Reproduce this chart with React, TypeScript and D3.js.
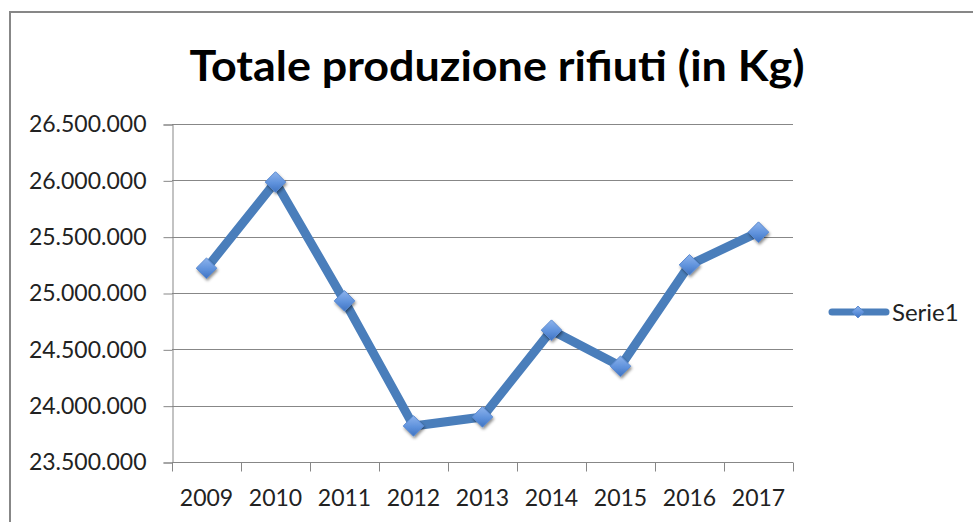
import React, { useEffect, useRef } from "react";
import * as d3 from "d3";

// chart data
const years = ["2009", "2010", "2011", "2012", "2013", "2014", "2015", "2016", "2017"];
const serie1 = [25220000, 25985000, 24930000, 23820000, 23900000, 24670000, 24350000, 25250000, 25540000];
const yTicks = [23500000, 24000000, 24500000, 25000000, 25500000, 26000000, 26500000];
const seriesName = "Serie1";
const title = "Totale produzione rifiuti (in Kg)";

const W = 973,
  H = 522;

const itLocale = d3.formatLocale({ decimal: ",", thousands: ".", grouping: [3], currency: ["", "€"] });
const fmt = itLocale.format(",d");

export default function App() {
  const ref = useRef<SVGSVGElement>(null);

  useEffect(() => {
    const svg = d3.select(ref.current);
    svg.selectAll("*").remove();

    const margin = { top: 124, right: 180, bottom: 60, left: 172 };

    const x = d3.scaleBand().domain(years).range([margin.left, W - margin.right]);
    const y = d3
      .scaleLinear()
      .domain([d3.min(yTicks) as number, d3.max(yTicks) as number])
      .range([H - margin.bottom, margin.top]);

    const font = "Lato, 'Liberation Sans', sans-serif";
    const grey = "#878787";
    const blue = "#4a7ebb";

    // defs: marker gradient + shadow
    const defs = svg.append("defs");
    const grad = defs
      .append("linearGradient")
      .attr("id", "mk")
      .attr("x1", 0)
      .attr("y1", 0)
      .attr("x2", 0)
      .attr("y2", 1);
    grad.append("stop").attr("offset", "0%").attr("stop-color", "#8db3ec");
    grad.append("stop").attr("offset", "55%").attr("stop-color", "#5f92dc");
    grad.append("stop").attr("offset", "100%").attr("stop-color", "#3f73c2");
    defs
      .append("filter")
      .attr("id", "sh")
      .attr("x", "-50%")
      .attr("y", "-50%")
      .attr("width", "200%")
      .attr("height", "200%")
      .append("feDropShadow")
      .attr("dx", 1)
      .attr("dy", 2)
      .attr("stdDeviation", 1.5)
      .attr("flood-color", "#000")
      .attr("flood-opacity", 0.45);

    // chart border
    svg
      .append("rect")
      .attr("x", 10)
      .attr("y", 12)
      .attr("width", W + 20)
      .attr("height", H + 20)
      .attr("fill", "#fff")
      .attr("stroke", grey)
      .attr("stroke-width", 2);

    // title
    svg
      .append("text")
      .attr("x", 497)
      .attr("y", 81)
      .attr("text-anchor", "middle")
      .attr("font-family", font)
      .attr("font-weight", "bold")
      .attr("font-size", 42)
      .attr("textLength", 615)
      .attr("lengthAdjust", "spacingAndGlyphs")
      .attr("fill", "#000")
      .text(title);

    const [x0, x1] = x.range();

    // horizontal gridlines
    svg
      .append("g")
      .selectAll("line")
      .data(yTicks)
      .enter()
      .append("line")
      .attr("x1", x0)
      .attr("x2", x1)
      .attr("y1", (d) => Math.round(y(d)) + 0.5)
      .attr("y2", (d) => Math.round(y(d)) + 0.5)
      .attr("stroke", grey)
      .attr("stroke-width", 1);

    // y axis
    const yAxis = svg
      .append("g")
      .attr("transform", `translate(${x0 + 0.5},0.5)`)
      .call(d3.axisLeft(y).tickValues(yTicks).tickSize(9).tickPadding(17).tickFormat((d) => fmt(d as number)));
    yAxis.select(".domain").attr("stroke", grey);
    yAxis.selectAll(".tick line").attr("stroke", grey);
    yAxis
      .selectAll(".tick text")
      .attr("font-family", font)
      .attr("font-size", 23)
      .attr("fill", "#222");

    // x axis: line + ticks at category boundaries
    const yb = Math.round(y.range()[0]) + 0.5;
    const xg = svg.append("g");
    xg.append("line").attr("x1", x0).attr("x2", x1).attr("y1", yb).attr("y2", yb).attr("stroke", grey);
    xg.selectAll("line.tk")
      .data([...years.map((c) => x(c) as number), x1])
      .enter()
      .append("line")
      .attr("class", "tk")
      .attr("x1", (d) => Math.round(d) + 0.5)
      .attr("x2", (d) => Math.round(d) + 0.5)
      .attr("y1", yb)
      .attr("y2", yb + 9)
      .attr("stroke", grey);
    xg.selectAll("text")
      .data(years)
      .enter()
      .append("text")
      .attr("x", (d) => (x(d) as number) + x.bandwidth() / 2)
      .attr("y", yb + 43)
      .attr("text-anchor", "middle")
      .attr("font-family", font)
      .attr("font-size", 23)
      .attr("fill", "#222")
      .text((d) => d);

    // series line
    const pts = years.map((c, i) => [(x(c) as number) + x.bandwidth() / 2, y(serie1[i])] as [number, number]);
    svg
      .append("path")
      .attr("d", d3.line()(pts))
      .attr("fill", "none")
      .attr("stroke", blue)
      .attr("stroke-width", 9)
      .attr("stroke-linejoin", "round")
      .attr("stroke-linecap", "round");

    // diamond markers
    const diamond = d3.symbol().type(d3.symbolDiamond2).size(270);
    svg
      .append("g")
      .selectAll("path")
      .data(pts)
      .enter()
      .append("path")
      .attr("d", diamond())
      .attr("transform", (d) => `translate(${d[0]},${d[1]})`)
      .attr("fill", "url(#mk)")
      .attr("stroke", "#5b8ad0")
      .attr("stroke-width", 1)
      .attr("filter", "url(#sh)");

    // legend
    const lg = svg.append("g").attr("transform", "translate(829,312)");
    lg.append("line")
      .attr("x1", 3)
      .attr("x2", 57)
      .attr("stroke", blue)
      .attr("stroke-width", 7)
      .attr("stroke-linecap", "round");
    lg.append("path")
      .attr("d", d3.symbol().type(d3.symbolDiamond2).size(90)())
      .attr("transform", "translate(29,0)")
      .attr("fill", "url(#mk)")
      .attr("stroke", "#5b8ad0")
      .attr("stroke-width", 1);
    lg.append("text")
      .attr("x", 63)
      .attr("y", 9)
      .attr("font-family", font)
      .attr("font-size", 24)
      .attr("fill", "#222")
      .text(seriesName);
  }, []);

  return (
    <svg
      ref={ref}
      width={W}
      height={H}
      style={{ position: "absolute", left: 0, top: 0, background: "#fff" }}
    />
  );
}
